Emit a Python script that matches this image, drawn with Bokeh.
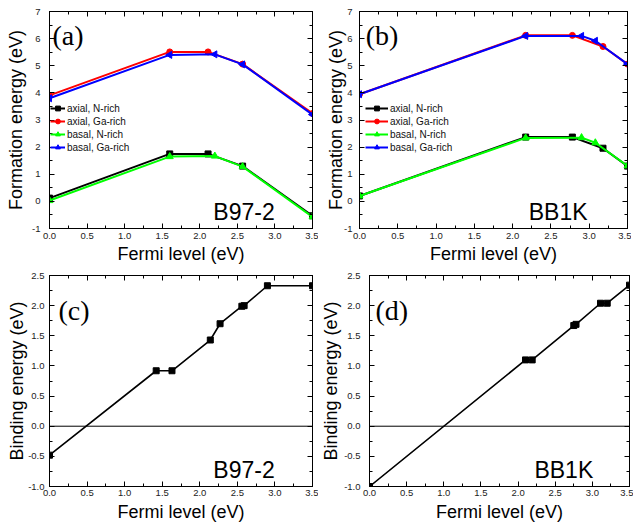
import math
from bokeh.plotting import figure
from bokeh.layouts import column, row
from bokeh.models import (LinearAxis, SingleIntervalTicker, NumeralTickFormatter,
                          Label, Span, Range1d, CustomJSTickFormatter)
from bokeh.embed import file_html
from bokeh.resources import INLINE

# ---------------- data ----------------
series_names = ["axial, N-rich", "axial, Ga-rich", "basal, N-rich", "basal, Ga-rich"]
series_colors = ["#000000", "#ff0000", "#00ff00", "#0000ff"]

# panel (a) B97-2
fermi_a_axial = [0.0, 1.6, 2.11, 2.57, 3.5]
fermi_a_basal = [0.0, 1.6, 2.2, 2.57, 3.5]
a_axial_N = [0.12, 1.75, 1.75, 1.30, -0.53]
a_axial_Ga = [3.91, 5.51, 5.51, 5.06, 3.24]
a_basal_N = [0.03, 1.65, 1.67, 1.28, -0.57]
a_basal_Ga = [3.80, 5.40, 5.42, 5.05, 3.20]

# panel (b) BB1K
fermi_b_axial = [0.0, 2.17, 2.78, 3.18, 3.5]
fermi_b_basal = [0.0, 2.17, 2.9, 3.08, 3.5]
b_axial_N = [0.2, 2.37, 2.37, 1.96, 1.30]
b_axial_Ga = [3.95, 6.12, 6.12, 5.71, 5.06]
b_basal_N = [0.2, 2.34, 2.35, 2.16, 1.31]
b_basal_Ga = [3.95, 6.10, 6.10, 5.92, 5.06]

# panel (c) B97-2 binding energy
fermi_c = [0.0, 1.42, 1.63, 2.14, 2.27, 2.56, 2.59, 2.9, 3.5]
bind_c = [-0.48, 0.92, 0.92, 1.43, 1.70, 1.99, 2.0, 2.33, 2.33]

# panel (d) BB1K binding energy
fermi_d = [0.0, 2.1, 2.19, 2.75, 2.78, 3.11, 3.2, 3.5]
bind_d = [-1.0, 1.1, 1.1, 1.67, 1.69, 2.04, 2.04, 2.34]

SANS = "Liberation Sans"
SERIF = "Liberation Serif"
TICK_FS = "9.5px"
LABEL_FS = "18px"


def style_axis(ax, fmt, interval, label=None, tick_standoff=4, label_standoff=0):
    ax.ticker = SingleIntervalTicker(interval=interval, num_minor_ticks=2)
    ax.formatter = NumeralTickFormatter(format=fmt)
    ax.major_tick_in = 5
    ax.major_tick_out = 0
    ax.minor_tick_in = 3
    ax.minor_tick_out = 0
    ax.axis_line_color = "black"
    ax.major_tick_line_color = "black"
    ax.minor_tick_line_color = "black"
    ax.major_label_text_font = SANS
    ax.major_label_text_font_size = TICK_FS
    ax.major_label_text_color = "#222222"
    ax.major_label_standoff = tick_standoff
    if label:
        ax.axis_label = label
        ax.axis_label_text_font = SANS
        ax.axis_label_text_font_size = LABEL_FS
        ax.axis_label_text_font_style = "normal"
        ax.axis_label_text_color = "black"
        ax.axis_label_standoff = label_standoff


def mirror_axes(p, xint, yint):
    for place, interval in (("above", xint), ("right", yint)):
        ax = LinearAxis()
        ax.ticker = SingleIntervalTicker(interval=interval, num_minor_ticks=2)
        ax.formatter = CustomJSTickFormatter(code="return ''")
        ax.major_tick_in = 5
        ax.major_tick_out = 0
        ax.minor_tick_in = 3
        ax.minor_tick_out = 0
        ax.major_label_text_font_size = "1px"
        ax.major_label_text_color = None
        ax.major_label_standoff = 0
        ax.axis_line_color = "black"
        p.add_layout(ax, place)


def make_fig(fw, fh, xr, yr, left, right, top, bottom):
    p = figure(frame_width=fw, frame_height=fh, x_range=Range1d(*xr), y_range=Range1d(*yr),
               output_backend="svg", toolbar_location=None,
               min_border_left=left, min_border_right=right,
               min_border_top=top, min_border_bottom=bottom)
    p.xgrid.visible = False
    p.ygrid.visible = False
    p.outline_line_color = "black"
    p.outline_line_width = 1
    p.background_fill_color = "white"
    p.border_fill_color = "white"
    return p


def add_text(p, x, y, text, font, size):
    p.add_layout(Label(x=x, y=y, text=text, text_font=font, text_font_size=size,
                       text_color="black", text_baseline="alphabetic"))


def add_series(p, xs_list, ys_list, legend_loc, glyph_w):
    markers = ["square", "circle", "triangle", "triangle"]
    angles = [0, 0, 0, math.pi / 2]
    sizes = [6, 6, 7, 7]
    for xs, ys, name, col, mk, ang, sz in zip(xs_list, ys_list, series_names, series_colors,
                                               markers, angles, sizes):
        p.line(xs, ys, line_color=col, line_width=2, legend_label=name)
        p.scatter(xs, ys, marker=mk, size=sz, angle=ang, fill_color=col, line_color=col,
                  legend_label=name)
    lg = p.legend[0]
    lg.location = legend_loc
    lg.border_line_color = None
    lg.background_fill_alpha = 0
    lg.label_text_font = SANS
    lg.label_text_font_size = "10px"
    lg.label_text_color = "#111111"
    lg.label_height = 12
    lg.glyph_height = 12
    lg.glyph_width = glyph_w
    lg.label_standoff = 2
    lg.spacing = 1
    lg.padding = 0
    lg.margin = 0


# ---------------- panel (a) ----------------
pa = make_fig(263, 217, (0, 3.5), (-1, 7), 49, 6, 11, 40)
style_axis(pa.xaxis[0], "0.0", 0.5, "Fermi level (eV)", tick_standoff=4, label_standoff=2)
style_axis(pa.yaxis[0], "0", 1, "Formation energy (eV)", tick_standoff=9, label_standoff=3)
mirror_axes(pa, 0.5, 1)
add_series(pa, [fermi_a_axial, fermi_a_axial, fermi_a_basal, fermi_a_basal],
           [a_axial_N, a_axial_Ga, a_basal_N, a_basal_Ga], (1, 75), 15)
add_text(pa, 0.04, 6.1, "(a)", SERIF, "28px")
add_text(pa, 2.18, -0.41, "B97-2", SANS, "23px")

# ---------------- panel (b) ----------------
pb = make_fig(268, 217, (0, 3.5), (-1, 7), 41, 4, 11, 40)
style_axis(pb.xaxis[0], "0.0", 0.5, "Fermi level (eV)", tick_standoff=4, label_standoff=2)
style_axis(pb.yaxis[0], "0", 1, "Formation energy (eV)", tick_standoff=7, label_standoff=-5)
mirror_axes(pb, 0.5, 1)
add_series(pb, [fermi_b_axial, fermi_b_axial, fermi_b_basal, fermi_b_basal],
           [b_axial_N, b_axial_Ga, b_basal_N, b_basal_Ga], (6, 75), 23)
add_text(pb, 0.08, 6.1, "(b)", SERIF, "28px")
add_text(pb, 2.21, -0.41, "BB1K", SANS, "23px")

# ---------------- panel (c) ----------------
pc = make_fig(263, 211, (0, 3.5), (-1, 2.5), 49, 6, 7, 34)
style_axis(pc.xaxis[0], "0.0", 0.5, "Fermi level (eV)", tick_standoff=3, label_standoff=3)
style_axis(pc.yaxis[0], "0.0", 0.5, "Binding energy (eV)", tick_standoff=5, label_standoff=-2)
mirror_axes(pc, 0.5, 0.5)
pc.add_layout(Span(location=0, dimension="width", line_color="black", line_width=1))
pc.line(fermi_c, bind_c, line_color="black", line_width=1.6)
pc.scatter(fermi_c, bind_c, marker="square", size=6, fill_color="black", line_color="black")
add_text(pc, 0.12, 1.92, "(c)", SERIF, "28px")
add_text(pc, 2.18, -0.73, "B97-2", SANS, "23px")

# ---------------- panel (d) ----------------
pd_ = make_fig(260, 211, (0, 3.5), (-1, 2.5), 49, 4, 7, 34)
style_axis(pd_.xaxis[0], "0.0", 0.5, "Fermi level (eV)", tick_standoff=3, label_standoff=3)
style_axis(pd_.yaxis[0], "0.0", 0.5, "Binding energy (eV)", tick_standoff=9, label_standoff=0)
mirror_axes(pd_, 0.5, 0.5)
pd_.add_layout(Span(location=0, dimension="width", line_color="black", line_width=1))
pd_.line(fermi_d, bind_d, line_color="black", line_width=1.6)
pd_.scatter(fermi_d, bind_d, marker="square", size=6, fill_color="black", line_color="black")
add_text(pd_, 0.08, 1.92, "(d)", SERIF, "28px")
add_text(pd_, 2.22, -0.73, "BB1K", SANS, "23px")

layout = column(row(pa, pb), row(pc, pd_))

open("out.html", "w").write(file_html(layout, INLINE))
